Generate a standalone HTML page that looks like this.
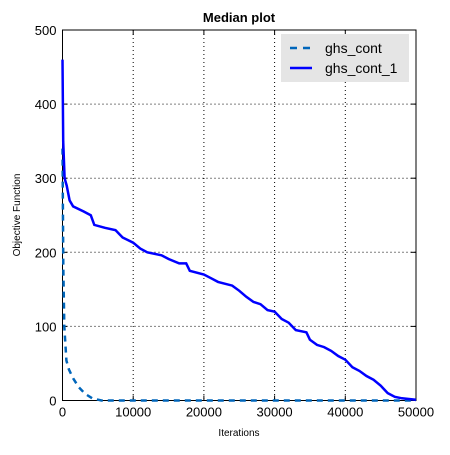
<!DOCTYPE html>
<html><head><meta charset="utf-8"><style>
body{margin:0;background:#fff;font-family:"Liberation Sans","DejaVu Sans",sans-serif}
svg text{font-family:"Liberation Sans","DejaVu Sans",sans-serif}
</style></head><body>
<svg id="chart" width="450" height="450" viewBox="0 0 450 450" xmlns="http://www.w3.org/2000/svg"></svg>
<script>
const xTicks=[0,10000,20000,30000,40000,50000];
const yTicks=[0,100,200,300,400,500];
const contX=[0,60,120,250,550,900,1500,2300,3200,4200,5500,50000];
const contY=[340,260,180,100,54,42,30,18,9,3,0,0];
const cont1X=[0,100,300,600,1000,1500,3000,4000,4500,6000,7500,8500,10000,11000,12000,14000,15000,16500,17500,18000,20000,21000,22000,24000,25000,26000,27000,28000,29000,30000,31000,32000,33000,34500,35000,36000,37000,38000,39000,40000,41000,42000,43000,44000,45000,46000,47000,48000,50000];
const cont1Y=[460,350,300,290,270,262,255,250,237,233,230,220,213,205,200,196,191,185,185,175,170,165,160,155,148,140,133,130,122,120,110,105,95,92,82,75,72,67,60,55,45,40,33,28,20,10,5,3,1];
const L=62.5,R=416,T=30,B=400.5;
const sx=v=>L+(v-0)/50000*(R-L);
const sy=v=>B-(v/500)*(B-T);
const svg=document.getElementById('chart');
const NS='http://www.w3.org/2000/svg';
function mk(tag,attrs,parent){const e=document.createElementNS(NS,tag);for(const k in attrs)e.setAttribute(k,attrs[k]);(parent||svg).appendChild(e);return e;}
xTicks.forEach(t=>{const g=mk('line',{x1:sx(t),x2:sx(t),y1:T,y2:B,stroke:'#000','stroke-width':1,'stroke-dasharray':'1,3'});


const lb=mk('text',{x:sx(t),y:B+16,'font-size':13,'text-anchor':'middle'});lb.textContent=t;


mk('line',{x1:sx(t),x2:sx(t),y1:B,y2:B-5,stroke:'#000'});mk('line',{x1:sx(t),x2:sx(t),y1:T,y2:T+5,stroke:'#000'});});
yTicks.forEach(t=>{const g=mk('line',{x1:L,x2:R,y1:sy(t),y2:sy(t),stroke:'#000','stroke-width':1,'stroke-dasharray':'1,3'});


const lb=mk('text',{x:L-6,y:sy(t)+5,'font-size':13,'text-anchor':'end'});lb.textContent=t;


mk('line',{x1:L,x2:L+5,y1:sy(t),y2:sy(t),stroke:'#000'});mk('line',{x1:R,x2:R-5,y1:sy(t),y2:sy(t),stroke:'#000'});});
const frame=mk('rect',{x:L,y:T,width:R-L,height:B-T,fill:'none',stroke:'#000','stroke-width':1});


function path(xs,ys){return xs.map((x,i)=>(i?'L':'M')+sx(x).toFixed(1)+' '+sy(ys[i]).toFixed(1)).join(' ');}
const p1=mk('path',{d:path(contX,contY),fill:'none',stroke:'#0066bb','stroke-width':2.5,'stroke-dasharray':'6,5'});


const p2=mk('path',{d:path(cont1X,cont1Y),fill:'none',stroke:'#0000ff','stroke-width':2.5});


const ti=mk('text',{x:239,y:22,'font-size':13,'font-weight':'bold','text-anchor':'middle'});ti.textContent='Median plot';


const xl=mk('text',{x:239,y:436,'font-size':10,'text-anchor':'middle'});xl.textContent='Iterations';


const yl=mk('text',{x:20,y:215,'font-size':10,'text-anchor':'middle',transform:'rotate(-90 20 215)'});yl.textContent='Objective Function';


const lg=mk('g',{});


mk('rect',{x:281,y:34,width:128,height:48,fill:'#e5e5e5'},lg);
const e1=mk('line',{x1:290,x2:312,y1:48,y2:48,stroke:'#0066bb','stroke-width':2.5,'stroke-dasharray':'7,6'},lg);


const t1=mk('text',{x:325,y:53,'font-size':14},lg);t1.textContent='ghs_cont';
const e2=mk('line',{x1:290,x2:312,y1:68,y2:68,stroke:'#0000ff','stroke-width':2.5},lg);


const t2=mk('text',{x:325,y:73,'font-size':14},lg);t2.textContent='ghs_cont_1';
</script>
</body></html>
